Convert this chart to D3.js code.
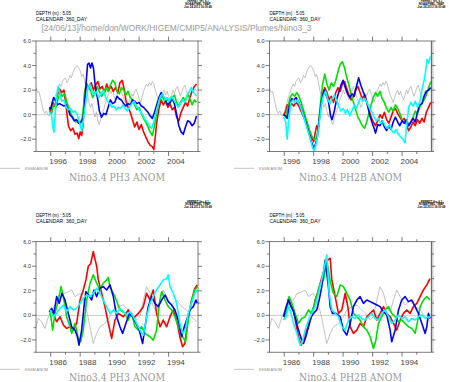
<!DOCTYPE html>
<html>
<head>
<meta charset="utf-8">
<script src="https://cdn.jsdelivr.net/npm/d3@7"></script>
<style>
  body { margin: 0; background: #fff; }
</style>
</head>
<body>
<div id="chart"></div>
<script>
// ---- data: [year, anomaly] ----
var obsTop = [[1995.0,2.2],[1995.1,1.8],[1995.2,1.9],[1995.3,1.4],[1995.4,0.9],[1995.5,0.3],[1995.6,0.1],[1995.7,0.3],[1995.8,0.0],[1995.9,-0.1],[1996.0,0.2],[1996.1,0.6],[1996.2,1.0],[1996.3,1.5],[1996.4,1.8],[1996.5,2.2],[1996.6,2.5],[1996.7,2.3],[1996.8,2.7],[1996.9,2.9],[1997.0,3.0],[1997.1,2.6],[1997.2,2.8],[1997.3,3.2],[1997.4,3.0],[1997.5,3.4],[1997.6,3.7],[1997.7,3.9],[1997.8,4.0],[1997.9,3.8],[1998.0,3.6],[1998.1,3.1],[1998.2,3.3],[1998.3,2.8],[1998.4,2.1],[1998.5,1.6],[1998.6,1.0],[1998.7,0.6],[1998.8,0.9],[1998.9,0.3],[1999.0,-0.2],[1999.1,0.2],[1999.2,-0.5],[1999.3,-0.8],[1999.4,-0.3],[1999.5,0.1],[1999.6,0.4],[1999.7,0.9],[1999.8,1.3],[1999.9,1.6],[2000.0,2.0],[2000.1,1.7],[2000.2,2.1],[2000.3,1.5],[2000.4,1.2],[2000.5,1.6],[2000.6,2.0],[2000.7,2.3],[2000.8,1.9],[2000.9,1.5],[2001.0,1.2],[2001.1,1.0],[2001.2,0.6],[2001.3,0.9],[2001.4,1.3],[2001.5,1.7],[2001.6,1.5],[2001.7,1.9],[2001.8,2.1],[2001.9,1.7],[2002.0,1.3],[2002.1,1.0],[2002.2,1.4],[2002.3,1.9],[2002.4,2.2],[2002.5,2.5],[2002.6,2.3],[2002.7,2.6],[2002.8,2.4],[2002.9,2.7],[2003.0,2.5],[2003.1,2.0],[2003.2,1.6],[2003.3,1.3],[2003.4,1.0],[2003.5,1.4],[2003.6,1.8],[2003.7,2.0],[2003.8,1.6],[2003.9,1.9],[2004.0,1.5],[2004.1,1.2],[2004.2,1.6],[2004.3,2.0],[2004.4,1.7],[2004.5,2.1],[2004.6,2.3],[2004.7,1.9],[2004.8,1.5],[2004.9,1.8],[2005.0,2.2],[2005.1,2.4],[2005.2,2.0],[2005.3,1.6],[2005.4,1.3],[2005.5,1.7],[2005.6,2.0],[2005.7,1.8],[2005.8,2.1],[2005.9,1.9]];
var obsBottom = [[1985.0,-0.93],[1985.16,-0.25],[1985.38,-0.52],[1985.61,-1.06],[1985.84,-0.11],[1986.18,0.71],[1986.63,1.25],[1986.86,1.8],[1987.08,1.85],[1987.42,2.07],[1987.65,1.53],[1987.99,1.8],[1988.21,1.25],[1988.48,0.16],[1988.71,-1.2],[1988.89,-2.29],[1989.12,-1.47],[1989.34,-0.93],[1989.68,-0.65],[1990.02,-0.11],[1990.25,0.44],[1990.59,0.71],[1990.93,0.84],[1991.15,0.57],[1991.49,0.16],[1991.83,-0.38],[1992.06,-0.11],[1992.29,1.25],[1992.51,2.34],[1992.74,1.8],[1992.96,0.71],[1993.19,0.3],[1993.42,1.25],[1993.64,2.07],[1993.87,1.53],[1994.21,0.84],[1994.55,1.25],[1994.89,0.71],[1995.23,0.44],[1995.57,-0.11],[1995.9,-0.52]];

var ph3TopRed = [[1995.9,0.5],[1996.0,0.3],[1996.15,1.0],[1996.3,0.7],[1996.45,1.6],[1996.6,2.1],[1996.75,1.8],[1996.9,2.0],[1997.05,0.6],[1997.2,-0.9],[1997.35,-1.3],[1997.5,-1.1],[1997.65,-1.6],[1997.8,-1.5],[1997.9,-1.95],[1998.0,-1.4],[1998.1,-1.7],[1998.2,-0.8],[1998.3,1.8],[1998.45,2.5],[1998.6,2.2],[1998.75,2.6],[1998.9,2.0],[1999.05,2.4],[1999.2,2.7],[1999.35,2.1],[1999.5,2.3],[1999.65,1.8],[1999.8,2.5],[1999.95,2.0],[2000.1,2.3],[2000.25,1.9],[2000.4,2.2],[2000.55,1.8],[2000.7,2.6],[2000.85,2.8],[2001.0,2.0],[2001.1,1.2],[2001.25,0.6],[2001.4,0.2],[2001.55,-0.4],[2001.7,-1.0],[2001.85,-0.6],[2002.0,-1.2],[2002.15,-0.8],[2002.3,-1.4],[2002.45,-1.8],[2002.6,-2.2],[2002.75,-2.5],[2002.9,-2.6],[2003.0,-2.85],[2003.1,-1.8],[2003.2,-0.6],[2003.35,0.5],[2003.5,1.2],[2003.65,0.8],[2003.8,1.1],[2003.95,0.6],[2004.1,0.9],[2004.25,0.4],[2004.4,0.6],[2004.55,-0.2],[2004.7,-0.5],[2004.85,0.2],[2005.0,0.6],[2005.15,1.0],[2005.3,0.7],[2005.45,1.4],[2005.6,1.9],[2005.75,2.3],[2005.9,2.5]];
var ph3TopGreen = [[1995.9,0.3],[1996.05,0.1],[1996.2,0.8],[1996.35,0.6],[1996.5,1.3],[1996.65,1.8],[1996.8,1.5],[1996.95,1.7],[1997.1,1.0],[1997.25,0.5],[1997.4,0.0],[1997.55,-0.3],[1997.7,-0.6],[1997.85,-0.5],[1998.0,-0.8],[1998.15,-0.2],[1998.3,1.5],[1998.4,2.6],[1998.55,2.2],[1998.7,2.0],[1998.85,1.4],[1999.0,1.8],[1999.15,2.3],[1999.3,1.9],[1999.45,1.5],[1999.6,1.8],[1999.75,2.2],[1999.9,1.9],[2000.05,2.4],[2000.2,2.8],[2000.35,2.6],[2000.5,1.9],[2000.65,1.7],[2000.8,2.2],[2000.95,2.0],[2001.1,1.6],[2001.25,1.9],[2001.4,1.4],[2001.55,1.2],[2001.7,0.8],[2001.85,0.4],[2002.0,0.6],[2002.15,0.1],[2002.3,-0.3],[2002.45,-0.6],[2002.6,-1.0],[2002.75,-1.4],[2002.9,-1.7],[2003.05,-0.9],[2003.2,0.2],[2003.35,1.0],[2003.5,1.5],[2003.65,1.3],[2003.8,1.0],[2003.95,1.3],[2004.1,0.9],[2004.25,1.4],[2004.4,1.6],[2004.55,1.0],[2004.7,0.7],[2004.85,1.1],[2005.0,1.4],[2005.15,1.1],[2005.3,1.7],[2005.45,1.3],[2005.6,0.8],[2005.75,1.2],[2005.9,1.0]];
var ph3TopBlue = [[1995.9,0.6],[1996.0,0.5],[1996.1,1.0],[1996.2,1.4],[1996.3,1.2],[1996.45,0.8],[1996.6,0.9],[1996.75,0.8],[1996.9,0.7],[1997.05,0.8],[1997.2,0.4],[1997.3,0.0],[1997.45,-0.2],[1997.6,-0.5],[1997.75,-0.4],[1997.9,-0.7],[1998.05,-0.6],[1998.2,-0.3],[1998.3,0.8],[1998.4,2.5],[1998.5,4.1],[1998.6,4.2],[1998.7,3.8],[1998.8,4.2],[1998.9,3.8],[1999.0,2.6],[1999.1,1.8],[1999.2,1.2],[1999.3,0.3],[1999.45,-0.2],[1999.6,0.1],[1999.75,0.0],[1999.9,0.6],[2000.05,1.2],[2000.2,0.9],[2000.35,1.0],[2000.5,1.5],[2000.65,1.3],[2000.8,1.2],[2000.95,0.9],[2001.1,0.7],[2001.25,0.9],[2001.4,0.8],[2001.55,1.2],[2001.7,1.1],[2001.85,0.9],[2002.0,1.0],[2002.15,0.7],[2002.3,0.6],[2002.45,0.4],[2002.6,0.2],[2002.75,-0.1],[2002.9,-0.3],[2003.05,0.2],[2003.2,0.8],[2003.35,1.4],[2003.5,1.8],[2003.65,1.5],[2003.8,1.1],[2003.95,0.8],[2004.1,1.0],[2004.25,1.3],[2004.4,0.9],[2004.55,0.0],[2004.7,-0.9],[2004.85,-1.4],[2005.0,-1.6],[2005.15,-1.0],[2005.3,-0.5],[2005.45,-0.6],[2005.6,-0.9],[2005.75,-0.7],[2005.9,-0.1]];
var ph3TopCyan = [[1995.9,0.2],[1996.05,0.0],[1996.15,-1.0],[1996.22,-1.45],[1996.3,0.0],[1996.4,1.5],[1996.5,2.3],[1996.6,1.8],[1996.75,1.1],[1996.9,1.2],[1997.05,0.6],[1997.2,0.4],[1997.35,0.5],[1997.5,0.2],[1997.65,0.3],[1997.8,0.0],[1997.95,-0.6],[1998.1,-1.35],[1998.2,-0.6],[1998.35,0.8],[1998.5,2.0],[1998.65,2.5],[1998.8,1.9],[1998.95,1.6],[1999.1,1.9],[1999.25,1.4],[1999.4,1.7],[1999.55,2.0],[1999.7,1.5],[1999.85,1.1],[2000.0,0.9],[2000.15,0.6],[2000.3,0.7],[2000.45,0.4],[2000.6,0.6],[2000.75,0.5],[2000.9,0.8],[2001.05,0.5],[2001.2,0.3],[2001.35,0.6],[2001.5,0.9],[2001.65,1.1],[2001.8,0.7],[2001.95,0.5],[2002.1,0.2],[2002.25,0.0],[2002.4,-0.4],[2002.55,-0.6],[2002.7,-0.9],[2002.85,-1.1],[2003.0,-0.6],[2003.15,0.2],[2003.3,0.9],[2003.45,1.5],[2003.6,1.7],[2003.75,1.2],[2003.9,1.4],[2004.05,1.1],[2004.2,1.5],[2004.35,1.2],[2004.5,0.9],[2004.65,0.6],[2004.8,0.9],[2004.95,1.2],[2005.1,1.0],[2005.25,1.5],[2005.4,1.9],[2005.55,2.2],[2005.7,1.8],[2005.9,1.5]];

var ph2bTopRed = [[1995.95,-0.1],[1996.1,0.3],[1996.2,0.8],[1996.35,0.6],[1996.5,0.9],[1996.65,0.7],[1996.8,1.0],[1996.95,0.8],[1997.1,0.4],[1997.25,0.0],[1997.4,-0.4],[1997.55,-0.8],[1997.7,-1.3],[1997.85,-1.8],[1998.0,-2.2],[1998.1,-1.5],[1998.2,-0.9],[1998.3,-1.2],[1998.45,0.5],[1998.6,1.6],[1998.75,2.2],[1998.9,1.8],[1999.05,1.2],[1999.2,1.5],[1999.35,1.0],[1999.5,1.8],[1999.65,2.2],[1999.8,1.9],[1999.95,2.5],[2000.1,2.7],[2000.25,2.1],[2000.4,1.6],[2000.55,1.2],[2000.7,1.5],[2000.85,2.0],[2001.0,2.3],[2001.15,1.8],[2001.3,1.3],[2001.45,1.6],[2001.6,1.0],[2001.75,0.4],[2001.9,-0.2],[2002.05,-0.6],[2002.2,-0.9],[2002.35,-0.5],[2002.5,0.0],[2002.65,-0.3],[2002.8,0.2],[2002.95,-0.4],[2003.1,-0.7],[2003.25,-0.2],[2003.4,0.3],[2003.55,0.5],[2003.7,0.1],[2003.85,-0.2],[2004.0,-0.5],[2004.15,-0.3],[2004.3,-0.8],[2004.45,-1.3],[2004.6,-1.0],[2004.75,-0.6],[2004.9,-0.9],[2005.05,-0.4],[2005.2,-0.7],[2005.35,-0.3],[2005.5,-0.6],[2005.65,0.2],[2005.8,0.6],[2005.95,1.0]];
var ph2bTopGreen = [[1995.95,0.0],[1996.1,-0.2],[1996.25,0.6],[1996.4,1.4],[1996.55,1.7],[1996.7,1.5],[1996.85,1.8],[1997.0,1.5],[1997.15,1.0],[1997.3,0.4],[1997.45,-0.2],[1997.6,-0.8],[1997.75,-1.4],[1997.9,-1.8],[1998.05,-2.0],[1998.2,-1.9],[1998.3,-1.2],[1998.45,0.8],[1998.6,2.4],[1998.75,3.3],[1998.9,2.5],[1999.05,2.0],[1999.2,2.6],[1999.35,2.3],[1999.5,2.8],[1999.65,3.5],[1999.8,4.1],[1999.95,4.3],[2000.1,3.8],[2000.25,3.0],[2000.4,2.4],[2000.55,1.6],[2000.7,1.0],[2000.85,0.4],[2001.0,-0.2],[2001.15,-0.5],[2001.3,-0.9],[2001.45,-1.1],[2001.6,-0.6],[2001.75,0.1],[2001.9,0.8],[2002.05,1.4],[2002.2,1.8],[2002.35,1.5],[2002.5,1.9],[2002.65,1.3],[2002.8,1.0],[2002.95,0.5],[2003.1,0.2],[2003.25,0.6],[2003.4,0.3],[2003.55,0.8],[2003.7,0.5],[2003.85,0.1],[2004.0,-0.4],[2004.15,-0.7],[2004.3,-0.5],[2004.45,-0.9],[2004.6,-0.6],[2004.75,-0.2],[2004.9,0.3],[2005.05,0.1],[2005.2,0.6],[2005.35,0.9],[2005.5,1.2],[2005.65,1.6],[2005.8,2.2],[2005.95,2.7]];
var ph2bTopBlue = [[1995.95,0.0],[1996.1,-0.1],[1996.2,-0.3],[1996.35,0.7],[1996.5,1.3],[1996.65,1.2],[1996.8,1.4],[1996.95,1.1],[1997.1,0.7],[1997.25,0.2],[1997.4,-0.4],[1997.55,-1.0],[1997.7,-1.6],[1997.85,-2.2],[1998.0,-2.7],[1998.1,-2.5],[1998.25,-1.8],[1998.4,-0.2],[1998.55,1.2],[1998.7,2.0],[1998.85,1.6],[1999.0,1.1],[1999.15,-0.1],[1999.25,-0.4],[1999.4,0.3],[1999.55,1.2],[1999.7,1.8],[1999.85,2.4],[2000.0,2.8],[2000.15,2.2],[2000.3,1.7],[2000.45,1.4],[2000.6,1.7],[2000.75,1.5],[2000.9,2.3],[2001.05,3.0],[2001.2,2.4],[2001.35,1.9],[2001.5,1.5],[2001.65,0.8],[2001.8,0.0],[2001.95,-0.6],[2002.1,-1.1],[2002.2,-1.5],[2002.35,-0.8],[2002.5,-0.9],[2002.65,-0.5],[2002.8,-1.0],[2002.95,-1.3],[2003.1,-0.9],[2003.25,-1.2],[2003.4,-0.6],[2003.55,-0.2],[2003.7,-0.6],[2003.85,-0.9],[2004.0,-0.5],[2004.15,-0.7],[2004.3,-0.4],[2004.45,-0.9],[2004.6,-0.6],[2004.75,-0.3],[2004.9,-0.6],[2005.05,0.2],[2005.2,0.8],[2005.35,0.9],[2005.5,1.5],[2005.65,1.9],[2005.8,2.0],[2005.95,2.2]];
var ph2bTopCyan = [[1995.95,-0.2],[1996.1,-0.6],[1996.2,-2.0],[1996.3,-0.5],[1996.45,1.0],[1996.6,1.2],[1996.75,1.0],[1996.9,1.2],[1997.05,0.8],[1997.2,0.3],[1997.35,-0.3],[1997.5,-0.9],[1997.65,-1.5],[1997.8,-2.1],[1997.95,-2.8],[1998.05,-2.9],[1998.2,-2.2],[1998.35,-1.0],[1998.5,0.6],[1998.65,1.5],[1998.8,1.9],[1998.95,1.3],[1999.1,0.9],[1999.25,1.3],[1999.4,1.6],[1999.55,1.2],[1999.7,0.7],[1999.85,0.3],[2000.0,0.5],[2000.15,0.1],[2000.3,0.4],[2000.45,-0.1],[2000.6,0.3],[2000.75,0.8],[2000.9,0.5],[2001.05,1.0],[2001.2,1.4],[2001.35,1.1],[2001.5,1.3],[2001.65,0.9],[2001.8,0.5],[2001.95,0.2],[2002.1,-0.2],[2002.25,-0.5],[2002.4,-0.3],[2002.55,-0.7],[2002.7,-0.5],[2002.85,-0.9],[2003.0,-1.1],[2003.15,-0.8],[2003.3,-1.3],[2003.45,-1.5],[2003.6,-1.2],[2003.75,-1.6],[2003.9,-1.8],[2004.05,-2.0],[2004.2,-2.3],[2004.3,-1.0],[2004.45,0.6],[2004.6,1.0],[2004.75,0.7],[2004.9,1.1],[2005.05,0.6],[2005.2,1.0],[2005.35,2.0],[2005.5,2.8],[2005.6,3.5],[2005.7,4.5],[2005.8,4.2],[2005.95,4.8]];

var ph3BotRed = [[1985.95,0.3],[1986.18,0.16],[1986.4,-0.52],[1986.63,-0.11],[1986.86,-0.79],[1987.08,-1.06],[1987.31,-0.93],[1987.53,-1.2],[1987.76,-0.65],[1987.99,1.25],[1988.21,2.07],[1988.39,2.89],[1988.55,4.0],[1988.71,4.2],[1988.89,5.2],[1989.0,4.6],[1989.12,4.0],[1989.23,2.89],[1989.46,1.8],[1989.68,0.71],[1989.91,-0.65],[1990.14,-1.88],[1990.36,-0.38],[1990.59,0.16],[1990.93,-0.11],[1991.27,0.44],[1991.61,-0.25],[1991.95,0.16],[1992.29,0.71],[1992.51,1.8],[1992.74,1.25],[1992.96,2.07],[1993.19,0.16],[1993.42,-0.93],[1993.64,-0.38],[1993.87,-0.93],[1994.1,-0.11],[1994.32,0.44],[1994.55,-0.38],[1994.77,-1.74],[1994.95,-2.56],[1995.11,-2.29],[1995.34,-0.11],[1995.57,1.25],[1995.79,2.21],[1995.95,2.48]];
var ph3BotGreen = [[1985.95,0.44],[1986.13,-1.2],[1986.29,0.16],[1986.52,1.25],[1986.7,2.34],[1986.86,1.53],[1987.08,-0.11],[1987.31,-0.93],[1987.42,-1.47],[1987.65,-0.65],[1987.87,-1.88],[1988.03,-2.15],[1988.21,-1.2],[1988.44,1.25],[1988.67,2.62],[1988.89,3.3],[1989.12,2.62],[1989.34,2.07],[1989.57,2.62],[1989.8,2.89],[1989.91,3.1],[1990.02,2.34],[1990.36,1.53],[1990.7,0.44],[1991.04,0.16],[1991.27,-0.38],[1991.49,0.16],[1991.72,-0.93],[1991.95,-1.2],[1992.17,-0.93],[1992.4,-1.47],[1992.74,-1.74],[1992.96,-2.02],[1993.19,-1.2],[1993.37,0.98],[1993.53,1.93],[1993.76,1.25],[1993.98,0.71],[1994.21,0.44],[1994.43,-0.11],[1994.66,-0.93],[1994.89,-1.61],[1995.16,-2.15],[1995.34,-0.38],[1995.57,1.25],[1995.79,2.07],[1995.95,2.34]];
var ph3BotBlue = [[1985.9,0.3],[1986.06,0.57],[1986.22,0.16],[1986.4,1.53],[1986.58,0.98],[1986.76,1.8],[1986.97,1.25],[1987.19,0.16],[1987.42,-0.93],[1987.65,-1.2],[1987.81,-1.74],[1987.92,-2.43],[1988.1,-1.2],[1988.26,0.71],[1988.39,1.93],[1988.57,1.66],[1988.78,1.25],[1988.94,2.07],[1989.12,1.53],[1989.34,2.21],[1989.57,2.34],[1989.8,2.07],[1990.02,2.48],[1990.25,1.53],[1990.48,-0.11],[1990.7,-0.93],[1990.88,-1.47],[1991.11,-0.65],[1991.33,0.16],[1991.56,-0.11],[1991.79,-0.65],[1992.01,-1.2],[1992.24,-2.29],[1992.4,-0.93],[1992.62,0.71],[1992.85,1.53],[1993.08,0.98],[1993.3,0.71],[1993.53,1.25],[1993.76,1.66],[1993.98,1.12],[1994.21,0.84],[1994.43,0.44],[1994.66,-0.38],[1994.89,-1.74],[1995.07,-0.93],[1995.23,-0.38],[1995.45,0.44],[1995.68,0.71],[1995.86,1.25],[1995.95,0.98]];
var ph3BotCyan = [[1985.95,0.44],[1986.18,-0.11],[1986.4,0.16],[1986.63,0.57],[1986.86,0.84],[1987.08,0.3],[1987.31,0.71],[1987.53,0.44],[1987.76,0.57],[1987.99,0.98],[1988.21,1.39],[1988.44,1.66],[1988.67,1.53],[1988.89,1.8],[1989.12,2.21],[1989.34,1.8],[1989.57,1.25],[1989.8,0.71],[1990.02,0.16],[1990.25,0.44],[1990.48,0.16],[1990.7,0.57],[1990.93,0.3],[1991.15,0.03],[1991.38,0.3],[1991.61,-0.11],[1991.83,-0.65],[1992.06,-1.2],[1992.29,-1.61],[1992.51,-0.11],[1992.74,0.98],[1992.96,1.53],[1993.19,2.07],[1993.42,2.48],[1993.64,2.89],[1993.87,3.0],[1993.98,3.3],[1994.1,2.34],[1994.32,1.8],[1994.55,0.98],[1994.77,-0.65],[1994.95,-1.47],[1995.14,-1.2],[1995.34,0.16],[1995.57,0.98],[1995.79,1.8],[1995.95,2.07]];

var ph2bBotRed = [[1986.0,-0.11],[1986.18,0.71],[1986.29,1.39],[1986.47,0.71],[1986.63,0.44],[1986.79,-0.65],[1986.97,-1.74],[1987.15,-2.43],[1987.31,-2.02],[1987.53,-1.2],[1987.76,-0.38],[1987.92,0.16],[1988.1,1.25],[1988.33,2.07],[1988.51,2.89],[1988.78,4.0],[1988.95,4.5],[1989.12,4.65],[1989.23,2.89],[1989.46,1.53],[1989.68,0.16],[1989.91,0.44],[1990.14,1.8],[1990.32,0.71],[1990.48,-0.93],[1990.7,-1.47],[1990.93,-1.2],[1991.15,-0.65],[1991.38,-0.93],[1991.61,-0.11],[1991.83,0.16],[1992.06,0.44],[1992.29,-0.38],[1992.51,0.16],[1992.74,0.71],[1992.96,0.16],[1993.19,-0.11],[1993.42,-0.65],[1993.64,-1.2],[1993.87,-0.38],[1994.1,0.16],[1994.32,0.44],[1994.55,0.16],[1994.77,0.71],[1995.0,0.98],[1995.23,1.53],[1995.45,2.07],[1995.68,2.48],[1995.9,3.0]];
var ph2bBotGreen = [[1986.0,-0.38],[1986.18,0.44],[1986.33,1.53],[1986.52,0.98],[1986.74,0.16],[1986.97,-0.65],[1987.19,-0.25],[1987.42,-0.11],[1987.65,0.44],[1987.83,0.16],[1987.99,0.71],[1988.21,1.53],[1988.44,2.62],[1988.67,2.89],[1988.89,4.5],[1989.12,2.75],[1989.34,1.8],[1989.57,1.53],[1989.8,2.48],[1990.02,2.34],[1990.25,1.8],[1990.48,1.25],[1990.7,0.16],[1990.93,-0.11],[1991.15,-0.38],[1991.38,-0.93],[1991.61,-1.2],[1991.83,-1.74],[1992.06,-2.7],[1992.22,-2.02],[1992.4,-0.65],[1992.62,-0.11],[1992.85,0.44],[1993.08,0.71],[1993.3,0.16],[1993.53,-0.11],[1993.76,-0.52],[1993.98,-0.38],[1994.21,-0.65],[1994.43,-0.93],[1994.66,-1.06],[1994.89,-1.47],[1995.07,-0.38],[1995.23,0.71],[1995.45,1.25],[1995.68,1.53],[1995.9,1.25]];
var ph2bBotBlue = [[1985.95,-0.11],[1986.13,0.71],[1986.29,1.25],[1986.47,0.71],[1986.63,0.3],[1986.79,-0.38],[1986.97,-1.2],[1987.15,-1.88],[1987.31,-2.29],[1987.47,-1.74],[1987.65,-0.93],[1987.83,-0.11],[1987.99,0.16],[1988.21,0.44],[1988.37,1.25],[1988.55,2.34],[1988.78,4.5],[1989.0,2.34],[1989.12,0.71],[1989.28,0.16],[1989.5,0.16],[1989.8,-0.11],[1990.02,-1.2],[1990.25,-1.61],[1990.48,-0.65],[1990.7,0.71],[1990.93,1.25],[1991.15,1.53],[1991.38,0.98],[1991.61,1.25],[1991.83,1.12],[1992.06,0.98],[1992.29,0.84],[1992.51,0.71],[1992.74,0.3],[1992.96,0.03],[1993.19,-1.2],[1993.3,-2.15],[1993.53,-1.2],[1993.76,0.44],[1993.98,1.25],[1994.21,1.53],[1994.43,1.12],[1994.66,1.25],[1994.89,0.71],[1995.11,0.16],[1995.34,-0.65],[1995.57,-1.47],[1995.68,-0.93],[1995.79,0.16],[1995.9,-0.25]];
var ph2bBotCyan = [[1985.95,-0.38],[1986.13,-0.11],[1986.29,0.71],[1986.47,0.16],[1986.63,-0.65],[1986.86,-1.47],[1987.08,-2.43],[1987.24,-2.15],[1987.42,-1.2],[1987.65,-0.38],[1987.87,0.16],[1988.1,0.71],[1988.33,1.8],[1988.55,2.89],[1988.89,4.9],[1989.05,1.8],[1989.23,0.44],[1989.46,0.16],[1989.68,-0.11],[1989.91,-0.93],[1990.14,-1.2],[1990.36,-0.38],[1990.59,-0.11],[1990.81,-0.25],[1991.04,0.03],[1991.27,-0.25],[1991.49,-0.38],[1991.72,-0.11],[1991.95,0.16],[1992.17,-0.25],[1992.4,-0.38],[1992.62,0.16],[1992.85,0.44],[1993.08,-0.11],[1993.3,-0.65],[1993.53,-0.38],[1993.76,0.03],[1993.98,-0.25],[1994.21,-0.11],[1994.43,-0.52],[1994.66,-0.25],[1994.89,-0.38],[1995.11,-0.11],[1995.34,0.03],[1995.57,-0.25],[1995.79,-0.11],[1995.9,-0.16]];

var yTicks = [-3, -2, -1, 0, 1, 2, 3, 4, 5, 6];
var yLabels = [-2, 0, 2, 4, 6];
var topYearLabels = [1996, 1998, 2000, 2002, 2004];
var botYearLabels = [1986, 1988, 1990, 1992, 1994];
var memberColors = ["#ff0000", "#00e000", "#0000ff", "#00ffff"];
var headerLines = ["DEPTH (m) : 5.05", "CALENDAR: 360_DAY"];
var stampLines = ["FERRET Ver. 6.1", "NOAA/PMEL TMAP", "Jun 24 2013 16:00:49"];

var width = 449, height = 382,
    plotW = 162, plotH = 110.5,
    sans = '"Liberation Sans", Arial, sans-serif',
    serif = '"DejaVu Serif", "Liberation Serif", serif'

var svg = d3.select('#chart').append('svg')
    .attr('width', width)
    .attr('height', height)
    .style('font-family', sans)

var panels = [
  {left: 36,    top: 41,    domain: [1995, 2006], labels: topYearLabels, obs: obsTop,
   series: [ph3TopRed, ph3TopGreen, ph3TopBlue, ph3TopCyan], title: "Nino3.4 PH3 ANOM", band: false},
  {left: 269.5, top: 41,    domain: [1995, 2006], labels: topYearLabels, obs: obsTop,
   series: [ph2bTopRed, ph2bTopGreen, ph2bTopBlue, ph2bTopCyan], title: "Nino3.4 PH2B ANOM", band: true},
  {left: 36,    top: 241.7, domain: [1985, 1996], labels: botYearLabels, obs: obsBottom,
   series: [ph3BotRed, ph3BotGreen, ph3BotBlue, ph3BotCyan], title: "Nino3.4 PH3 ANOM", band: false},
  {left: 269.5, top: 241.7, domain: [1985, 1996], labels: botYearLabels, obs: obsBottom,
   series: [ph2bBotRed, ph2bBotGreen, ph2bBotBlue, ph2bBotCyan], title: "Nino3.4 PH2B ANOM", band: true}
]

panels.forEach(drawPanel)

// long path label that spans the two upper panels
svg.append('text')
   .attr('x', 41.5).attr('y', 30.5)
   .attr('font-size', 9)
   .attr('fill', '#999')
   .attr('textLength', 270)
   .attr('lengthAdjust', 'spacingAndGlyphs')
   .text("[24/06/13]/home/don/WORK/HIGEM/CMIP5/ANALYSIS/Plumes/Nino3_3")

function drawPanel(p) {
  var x = d3.scaleLinear().domain(p.domain).range([0, plotW])
  var y = d3.scaleLinear().domain([-3, 6]).range([plotH, 0])

  var g = svg.append('g')
      .attr('transform', 'translate(' + p.left + ',' + p.top + ')')

  // header + ferret stamp
  var hy = p.top < 100 ? [14.8, 21] : [216.5, 223]
  headerLines.forEach(function (t, i) {
    svg.append('text')
       .attr('x', p.left).attr('y', hy[i])
       .attr('font-size', 6.2)
       .attr('textLength', i == 0 ? 35 : 51)
       .attr('lengthAdjust', 'spacingAndGlyphs')
       .text(t)
  })
  var sy = p.top < 100 ? 2.2 : 202.5
  stampLines.forEach(function (t, i) {
    svg.append('text')
       .attr('x', p.left + plotW).attr('y', sy + i * 2.8)
       .attr('font-size', 2.8)
       .attr('font-weight', 'bold')
       .attr('text-anchor', 'middle')
       .text(t)
  })

  if (p.band) {
    g.append('rect')
     .attr('x', plotW - 1).attr('y', 0)
     .attr('width', 3).attr('height', plotH)
     .attr('fill', '#d0d0d0')
  }

  // zero line
  g.append('line')
   .attr('x1', 0).attr('x2', plotW)
   .attr('y1', y(0)).attr('y2', y(0))
   .attr('stroke', '#aaa').attr('stroke-width', 0.6)

  var line = d3.line()
      .x(function (d) { return x(d[0]) })
      .y(function (d) { return y(d[1]) })

  g.append('path')
   .datum(p.obs)
   .attr('d', line)
   .attr('fill', 'none')
   .attr('stroke', '#a8a8a8')
   .attr('stroke-width', 0.7)

  p.series.forEach(function (s, i) {
    g.append('path')
     .datum(s)
     .attr('d', line)
     .attr('fill', 'none')
     .attr('stroke', memberColors[i])
     .attr('stroke-width', 1.6)
     .attr('stroke-linejoin', 'round')
  })

  // frame
  g.append('rect')
   .attr('width', plotW).attr('height', plotH)
   .attr('fill', 'none').attr('stroke', '#444').attr('stroke-width', 0.7)

  // year ticks top (up) and bottom (down)
  var years = d3.range(p.domain[0] + 1, p.domain[1])
  years.forEach(function (yr) {
    var len = yr % 2 == 0 ? 4.5 : 2.5
    g.append('line').attr('x1', x(yr)).attr('x2', x(yr)).attr('y1', 0).attr('y2', -len)
     .attr('stroke', '#444').attr('stroke-width', 0.7)
    g.append('line').attr('x1', x(yr)).attr('x2', x(yr)).attr('y1', plotH).attr('y2', plotH + len)
     .attr('stroke', '#444').attr('stroke-width', 0.7)
  })
  g.selectAll('.yr')
   .data(p.labels)
   .enter().append('text')
   .attr('x', function (d) { return x(d + 0.5) })
   .attr('y', plotH + 12.5)
   .attr('text-anchor', 'middle')
   .attr('font-size', 8)
   .attr('fill', '#444')
   .text(function (d) { return d })

  // value ticks both sides
  yTicks.forEach(function (v) {
    var len = v % 2 == 0 ? 4 : 2.5
    g.append('line').attr('x1', 0).attr('x2', -len).attr('y1', y(v)).attr('y2', y(v))
     .attr('stroke', '#444').attr('stroke-width', 0.7)
    g.append('line').attr('x1', plotW).attr('x2', plotW + len).attr('y1', y(v)).attr('y2', y(v))
     .attr('stroke', '#444').attr('stroke-width', 0.7)
  })
  g.selectAll('.yl')
   .data(yLabels)
   .enter().append('text')
   .attr('x', -5)
   .attr('y', function (d) { return y(d) + 2 })
   .attr('text-anchor', 'end')
   .attr('font-size', 5.5)
   .attr('fill', '#333')
   .text(function (d) { return d3.format('.1f')(d) })

  // legend + title
  var ly = p.top < 100 ? 168.3 : 369.3
  var lx = p.left < 100 ? 0 : 234
  svg.append('line').attr('x1', lx).attr('x2', lx + 20).attr('y1', ly).attr('y2', ly)
     .attr('stroke', '#aaa').attr('stroke-width', 0.7)
  svg.append('text').attr('x', lx + 25).attr('y', ly + 1.2)
     .attr('font-size', 3.5).attr('fill', '#888')
     .attr('textLength', 23).attr('lengthAdjust', 'spacingAndGlyphs')
     .text("KSSM ANOM")

  var ty = p.top < 100 ? 181 : 380.5
  svg.append('text')
     .attr('x', p.left < 100 ? 69 : 299).attr('y', ty)
     .style('font-family', serif)
     .attr('font-size', 10.5)
     .attr('fill', '#9a9a9a')
     .attr('textLength', p.left < 100 ? 96 : 103)
     .attr('lengthAdjust', 'spacingAndGlyphs')
     .text(p.title)
}
</script>
</body>
</html>
